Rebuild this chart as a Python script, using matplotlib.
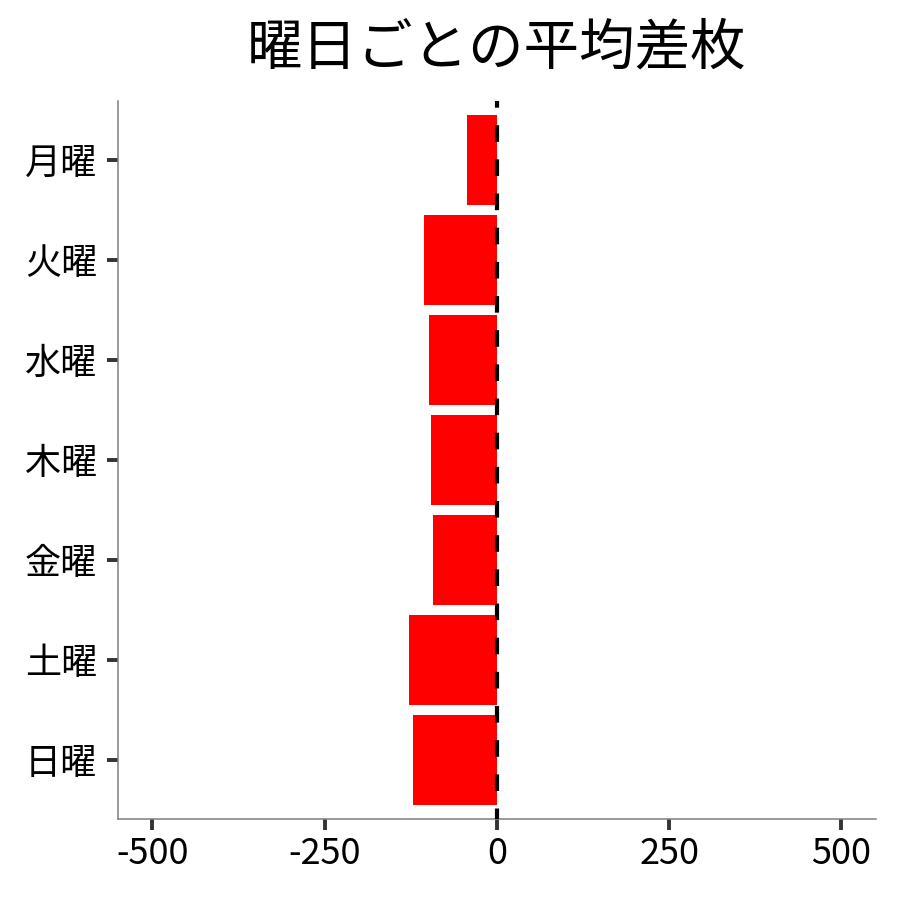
"""Average difference per weekday, horizontal bar chart."""

import matplotlib
matplotlib.use("Agg")
import matplotlib.pyplot as plt

plt.rcParams['font.family'] = ['Noto Sans CJK JP', 'DejaVu Sans']
plt.rcParams['axes.unicode_minus'] = False

# Data
days = ['月曜', '火曜', '水曜', '木曜', '金曜', '土曜', '日曜']
avg_diff = [-43, -106, -98, -96, -93, -127, -122]
x_ticks = [-500, -250, 0, 250, 500]

fig = plt.figure(figsize=(9, 9), dpi=100)
ax = fig.add_axes([0.131, 0.09, 0.842, 0.798])

positions = list(range(len(days)))[::-1]
ax.barh(positions, avg_diff, height=0.9, color='#FF0000', edgecolor='none', zorder=2)
# dashed zero line, drawn top -> bottom so the dash pattern starts at the top
ax.axvline(0, ymin=1, ymax=0, color='black', linewidth=3.0,
           linestyle=(2.4, (4.0, 4.2)), zorder=3)

ax.set_xlim(-550, 550)
ax.set_ylim(-0.59, len(days) - 1 + 0.59)
ax.set_xticks(x_ticks)
ax.set_xticklabels([str(v) for v in x_ticks])
ax.set_yticks(positions)
ax.set_yticklabels(days)

for side in ['top', 'right']:
    ax.spines[side].set_visible(False)
for side in ['left', 'bottom']:
    ax.spines[side].set_color('#7f7f7f')
    ax.spines[side].set_linewidth(1.1)

ax.tick_params(axis='both', length=8, width=2.8, color='#333333', labelsize=26,
               labelcolor='black', pad=4)
ax.tick_params(axis='y', pad=7)

ax.set_title('曜日ごとの平均差枚', fontsize=40, pad=26)

plt.savefig('out.png', dpi=100)
plt.close()
